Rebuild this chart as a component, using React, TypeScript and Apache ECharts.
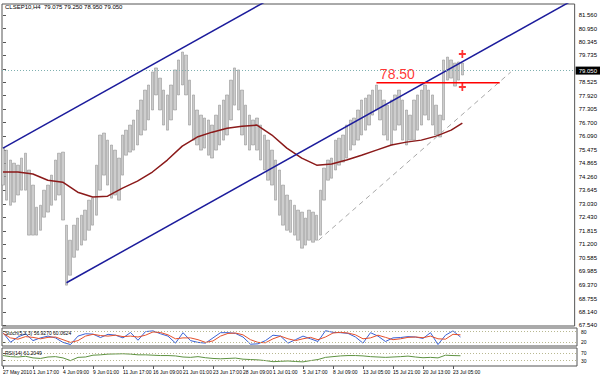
import React, { useEffect, useRef } from "react";
import * as echarts from "echarts";

const FONT = "'Liberation Sans', Arial, sans-serif";

const headerText = "CLSEP10,H4  79.075 79.250 78.950 79.050";
const stochTitle = "Stoch(5,3,3) 56.9270 60.0624";
const rsiTitle = "RSI(14) 61.2049";

const timeLabels = [
  "27 May 2010", "1 Jun 17:00", "4 Jun 09:00", "9 Jun 01:00", "11 Jun 17:00", "16 Jun 09:00",
  "21 Jun 01:00", "23 Jun 17:00", "28 Jun 09:00", "1 Jul 01:00", "5 Jul 17:00", "8 Jul 09:00",
  "13 Jul 05:00", "15 Jul 21:00", "20 Jul 13:00", "23 Jul 05:00",
];
const barsPerLabel = 8;

const priceTickLabels = [
  "81.560", "80.950", "80.345", "79.735", "79.125", "78.525", "77.920", "77.305", "76.700", "76.090",
  "75.475", "74.865", "74.260", "73.645", "73.030", "72.430", "71.815", "71.200", "70.585", "69.985",
  "69.370", "68.755", "68.140", "67.540",
];
const hiddenTick = "79.125";
const currentPrice = 79.05;
const currentPriceLabel = "79.050";

const highs = [
  75.55, 75.46, 75.01, 74.87, 74.78, 75.10, 75.32, 74.56, 73.88, 72.88,
  72.97, 73.65, 73.88, 74.33, 75.01, 75.32, 75.37, 72.07, 71.39, 72.07,
  72.39, 72.52, 72.75, 73.20, 73.29, 74.78, 76.14, 76.23, 75.91, 75.69,
  75.46, 75.10, 76.14, 76.36, 76.59, 76.82, 77.27, 77.72, 78.17, 78.40,
  78.99, 79.17, 78.71, 78.17, 77.95, 78.40, 79.08, 79.53, 79.89, 79.75,
  78.62, 77.95, 77.27, 77.04, 76.91, 76.82, 76.59, 77.04, 77.49, 77.72,
  77.95, 78.62, 79.17, 79.08, 78.17, 77.49, 77.04, 76.82, 76.91, 76.59,
  76.14, 75.91, 75.46, 75.01, 74.56, 73.88, 73.43, 73.20, 72.97, 72.75,
  72.66, 72.39, 72.75, 72.66, 72.52, 73.65, 74.65, 75.01, 75.10, 75.91,
  76.00, 76.14, 76.59, 76.82, 76.91, 77.27, 77.72, 77.81, 77.95, 78.17,
  78.40, 78.17, 77.72, 77.49, 77.72, 77.95, 78.17, 77.72, 77.27, 77.04,
  77.72, 77.95, 78.17, 78.40, 78.17, 77.95, 77.49, 77.04, 79.53, 79.66,
  79.53, 79.39, 79.44, 79.39,
];
const lows = [
  73.88, 73.20, 72.97, 73.11, 73.43, 73.65, 73.65, 71.62, 71.62, 71.62,
  71.84, 72.43, 72.66, 72.97, 73.20, 73.43, 72.30, 69.36, 69.81, 70.62,
  70.94, 71.17, 71.39, 71.84, 72.07, 72.52, 73.65, 74.33, 73.88, 73.29,
  73.43, 73.20, 74.33, 75.23, 75.37, 75.46, 75.69, 76.14, 76.36, 76.82,
  77.27, 77.95, 77.27, 76.59, 76.36, 76.82, 77.27, 77.95, 78.40, 77.95,
  76.59, 75.91, 75.69, 75.46, 75.55, 75.23, 75.10, 75.46, 75.69, 75.91,
  76.14, 76.82, 77.49, 77.27, 76.14, 75.69, 75.46, 75.69, 75.46, 75.01,
  74.56, 74.10, 73.88, 73.20, 72.52, 72.07, 71.84, 71.75, 71.62, 71.39,
  71.03, 71.17, 71.39, 71.30, 71.39, 71.62, 73.20, 74.10, 74.19, 74.56,
  74.78, 74.92, 75.10, 75.46, 75.69, 75.91, 76.14, 76.36, 76.59, 77.04,
  77.27, 76.82, 76.14, 75.91, 75.69, 76.36, 76.59, 75.91, 75.69, 75.91,
  75.91, 76.36, 76.59, 77.04, 76.82, 76.59, 76.14, 76.05, 76.82, 78.62,
  78.71, 78.35, 78.62, 78.85,
];

const maIdx = [0, 4, 8, 12, 16, 20, 24, 28, 32, 36, 40, 44, 48, 52, 56, 60, 64, 68, 72, 76, 80, 84, 88, 92, 96, 100, 104, 108, 112, 116, 120, 123];
const maVals = [
  74.47, 74.47, 74.38, 74.10, 74.01, 73.56, 73.34, 73.38, 73.74, 74.06,
  74.47, 75.01, 75.64, 76.05, 76.27, 76.45, 76.54, 76.59, 76.14, 75.55,
  75.10, 74.78, 74.83, 75.01, 75.23, 75.46, 75.69, 75.82, 75.91, 76.09,
  76.36, 76.68,
];

const oscStep = 2;
const stochK = [
  74, 21, 50, 68, 30, 45, 55, 45, 20, 8,
  55, 68, 66, 47, 65, 60, 45, 75, 32, 80,
  84, 68, 55, 16, 74, 30, 20, 16, 45, 74,
  74, 70, 50, 10, 12, 30, 60, 55, 16, 35,
  55, 40, 25, 85, 76, 74, 70, 50, 16, 74,
  55, 25, 45, 47, 52, 50, 42, 74, 8, 60,
  84, 50,
];
const stochD = [
  70, 45, 38, 52, 48, 40, 48, 50, 35, 20,
  30, 55, 65, 58, 55, 60, 52, 55, 50, 60,
  78, 75, 62, 40, 45, 45, 35, 20, 28, 55,
  70, 72, 62, 35, 20, 18, 40, 55, 40, 30,
  40, 48, 35, 50, 72, 76, 72, 62, 40, 45,
  60, 48, 35, 40, 48, 50, 46, 55, 40, 38,
  65, 62,
];
const rsiVals = [
  58, 52, 50, 54, 45, 42, 50, 52, 45, 30,
  48, 50, 60, 62, 66, 67, 68, 66, 62, 62,
  60, 58, 58, 56, 50, 48, 52, 46, 42, 40,
  42, 44, 38, 36, 34, 30, 24, 26, 28, 25,
  23, 30, 36, 48, 52, 56, 58, 58, 56, 52,
  50, 48, 50, 52, 55, 50, 46, 48, 45, 60,
  58, 57,
];
const stochLevels = [80, 20];
const rsiLevels = [70, 30];

const upperChannel = [[0, 75.55], [70, 82.14]];
const lowerChannel = [[17, 69.47], [153, 82.27]];
const supportLine = [[84.5, 71.39], [136, 78.99]];
const resistanceLine = [[100, 78.5], [133, 78.5]];
const resistanceLabelPoint = [[105.6, 78.5]];
const resistanceText = "78.50";
const fractals = [[123, 79.8], [123, 78.31]];

const X_MIN = -0.267;
const X_MAX = 153.07;

export default function App() {
  const ref = useRef<HTMLDivElement>(null);
  useEffect(() => {
    document.body.style.margin = "0";
    const chart = echarts.init(ref.current!, null, { renderer: "svg" });
    const candleData = lows.map((l, i) => [i, l, highs[i], l, highs[i]]);
    const maData = maIdx.map((x, k) => [x, maVals[k]]);
    const kData = stochK.map((v, k) => [k * oscStep, v]);
    const dData = stochD.map((v, k) => [k * oscStep, v]);
    const rData = rsiVals.map((v, k) => [k * oscStep, v]);
    const tickVals = priceTickLabels.map(Number);
    const labelVals = priceTickLabels.filter((s) => s !== hiddenTick).map(Number);
    const timeTicks = timeLabels.map((_, k) => k * barsPerLabel);
    const small = { fontSize: 6, fontFamily: FONT, color: "#000" };
    const plainX = (gi: number) => ({
      type: "value", gridIndex: gi, min: X_MIN, max: X_MAX,
      axisLine: { show: false }, axisTick: { show: false }, axisLabel: { show: false }, splitLine: { show: false },
    });
    const levelLine = (levels: number[]) => ({
      symbol: "none", silent: true,
      lineStyle: { type: [1, 2], color: "#b8b890", width: 1 },
      label: { show: false },
      data: levels.map((v) => ({ yAxis: v })),
    });
    chart.setOption({
      animation: false,
      backgroundColor: "#fff",
      textStyle: { fontFamily: FONT },
      grid: [
        { left: 2, top: 4, width: 575, height: 322, show: true, borderColor: "#555", borderWidth: 1, backgroundColor: "#fff" },
        { left: 2, top: 328, width: 575, height: 18, show: true, borderColor: "#555", borderWidth: 1, backgroundColor: "#fff" },
        { left: 2, top: 348, width: 575, height: 18, show: true, borderColor: "#555", borderWidth: 1, backgroundColor: "#fff" },
      ],
      xAxis: [
        plainX(0),
        plainX(1),
        {
          ...plainX(2),
          axisTick: { show: true, customValues: timeTicks, length: 3, lineStyle: { color: "#555" } },
          axisLabel: {
            show: true, customValues: timeTicks, fontSize: 5, fontFamily: FONT, color: "#000",
            align: "left", margin: 3, showMinLabel: true, showMaxLabel: true, hideOverlap: false,
            formatter: (v: number) => timeLabels[Math.round(v / barsPerLabel)] ?? "",
          },
        },
      ],
      yAxis: [
        {
          type: "value", gridIndex: 0, position: "right", min: 67.517, max: 82.057,
          axisLine: { show: false }, splitLine: { show: false },
          axisTick: { show: true, customValues: tickVals, length: 3, lineStyle: { color: "#555" } },
          axisLabel: { customValues: labelVals, ...small, margin: 4, formatter: (v: number) => v.toFixed(3) },
        },
        {
          type: "value", gridIndex: 1, position: "right", min: 0, max: 100,
          axisLine: { show: false }, splitLine: { show: false },
          axisTick: { show: true, customValues: stochLevels, length: 3, lineStyle: { color: "#555" } },
          axisLabel: { customValues: stochLevels, ...small, fontSize: 5, margin: 4 },
        },
        {
          type: "value", gridIndex: 2, position: "right", min: 0, max: 100,
          axisLine: { show: false }, splitLine: { show: false },
          axisTick: { show: true, customValues: rsiLevels, length: 3, lineStyle: { color: "#555" } },
          axisLabel: { customValues: rsiLevels, ...small, fontSize: 5, margin: 4 },
        },
      ],
      graphic: [
        { type: "text", left: 5, top: 4, style: { text: headerText, fontSize: 6, fontFamily: FONT, fill: "#000" } },
        { type: "text", left: 5, top: 330, z: 100, style: { text: stochTitle, fontSize: 5, fontFamily: FONT, fill: "#000" } },
        { type: "text", left: 5, top: 350, z: 100, style: { text: rsiTitle, fontSize: 5, fontFamily: FONT, fill: "#000" } },
      ],
      series: [
        {
          type: "candlestick", xAxisIndex: 0, yAxisIndex: 0, data: candleData,
          encode: { x: 0, y: [1, 2, 3, 4] }, barWidth: 3,
          itemStyle: { color: "#cdcdcd", color0: "#cdcdcd", borderColor: "#888888", borderColor0: "#888888", borderWidth: 0.5 },
          markLine: {
            symbol: "none", silent: true,
            lineStyle: { type: [1, 2], color: "#7fb0b0", width: 1 },
            label: {
              position: "end", formatter: currentPriceLabel, backgroundColor: "#000", color: "#fff",
              fontSize: 6, fontFamily: FONT, padding: [1, 3], distance: 1,
            },
            data: [{ yAxis: currentPrice }],
          },
        },
        {
          type: "line", xAxisIndex: 0, yAxisIndex: 0, data: maData, showSymbol: false,
          lineStyle: { color: "#8b1a1a", width: 1.5 }, z: 3,
        },
        { type: "line", xAxisIndex: 0, yAxisIndex: 0, data: upperChannel, showSymbol: false, lineStyle: { color: "#1c1c9c", width: 1.5 } },
        { type: "line", xAxisIndex: 0, yAxisIndex: 0, data: lowerChannel, showSymbol: false, lineStyle: { color: "#1c1c9c", width: 1.5 } },
        { type: "line", xAxisIndex: 0, yAxisIndex: 0, data: supportLine, showSymbol: false, lineStyle: { color: "#a8a8a8", width: 1, type: [5, 4] } },
        { type: "line", xAxisIndex: 0, yAxisIndex: 0, data: resistanceLine, showSymbol: false, lineStyle: { color: "#ff0000", width: 1.5 } },
        {
          type: "scatter", xAxisIndex: 0, yAxisIndex: 0, data: resistanceLabelPoint, symbolSize: 1,
          itemStyle: { color: "rgba(0,0,0,0)" },
          label: { show: true, position: "top", distance: 1, formatter: resistanceText, color: "#ff0000", fontSize: 14, fontFamily: FONT },
        },
        {
          type: "scatter", xAxisIndex: 0, yAxisIndex: 0, data: fractals,
          symbol: "path://M3,0H5V3H8V5H5V8H3V5H0V3H3Z", symbolSize: [7, 8],
          itemStyle: { color: "#ff0000" }, z: 5,
        },
        {
          type: "line", xAxisIndex: 1, yAxisIndex: 1, data: kData, showSymbol: false,
          lineStyle: { color: "#3a62d6", width: 1 }, markLine: levelLine(stochLevels),
        },
        {
          type: "line", xAxisIndex: 1, yAxisIndex: 1, data: dData, showSymbol: false,
          lineStyle: { color: "#e4502c", width: 1 },
        },
        {
          type: "line", xAxisIndex: 2, yAxisIndex: 2, data: rData, showSymbol: false,
          lineStyle: { color: "#5e9242", width: 1 }, markLine: levelLine(rsiLevels),
        },
      ],
    });
    return () => chart.dispose();
  }, []);
  return <div ref={ref} style={{ width: 600, height: 376 }} />;
}
